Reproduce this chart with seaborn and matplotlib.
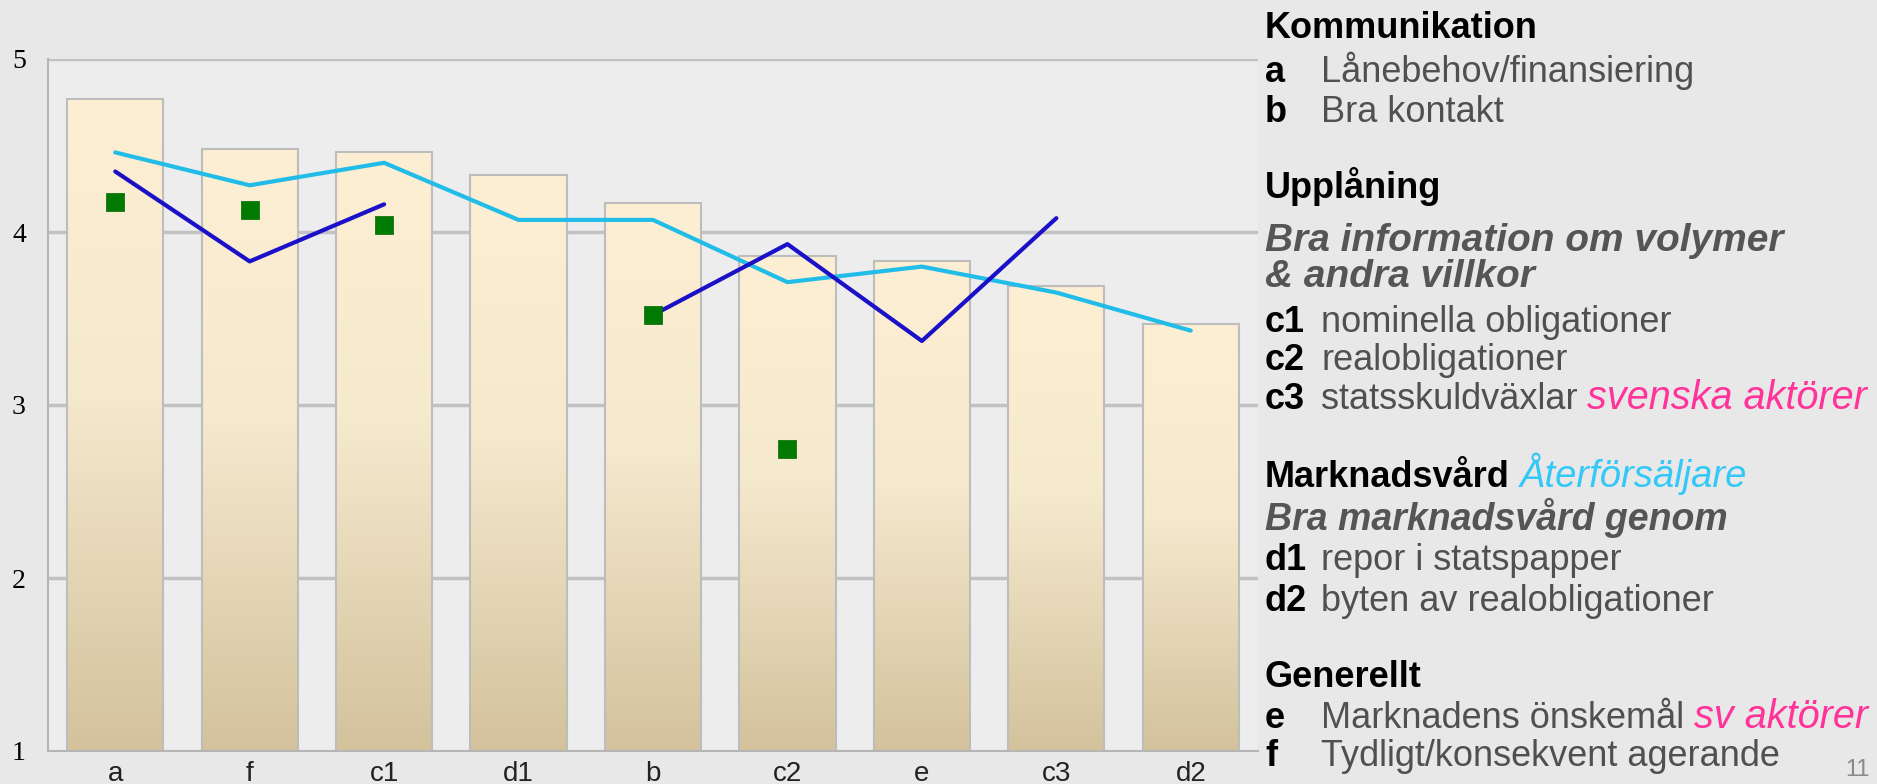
import numpy as np
import pandas as pd
import matplotlib
matplotlib.use("Agg")
import matplotlib.pyplot as plt
import seaborn as sns
from matplotlib.colors import LinearSegmentedColormap

# ---------------- data ----------------
categories = ["a", "f", "c1", "d1", "b", "c2", "e", "c3", "d2"]
bar_values = [4.77, 4.48, 4.46, 4.33, 4.17, 3.86, 3.83, 3.69, 3.47]
cyan_values = [4.46, 4.27, 4.40, 4.07, 4.07, 3.71, 3.80, 3.65, 3.43]
blue_values = [4.35, 3.83, 4.16, np.nan, 3.52, 3.93, 3.37, 4.08, np.nan]
green_values = [4.175, 4.13, 4.04, np.nan, 3.52, 2.745, np.nan, np.nan, np.nan]
y_ticks = [1, 2, 3, 4, 5]

df = pd.DataFrame({"cat": categories, "bar": bar_values, "cyan": cyan_values,
                   "blue": blue_values, "green": green_values})
df["pos"] = np.arange(len(df))

# ---------------- figure ----------------
sns.set_theme(style="white")
plt.rcParams["font.family"] = ["Liberation Sans", "DejaVu Sans"]

W, H = 1877, 784
fig = plt.figure(figsize=(W / 100, H / 100), dpi=100, facecolor="#E8E8E8")
ax = fig.add_axes([48 / W, 1 - 751 / H, 1210 / W, 692 / H])
ax.set_facecolor("#EDEDED")

sns.barplot(data=df, x="cat", y="bar", ax=ax, width=0.715, color="#F5E8CC",
            edgecolor="#BDBDBD", linewidth=1.5, zorder=2)
ax.set_ylim(y_ticks[0], y_ticks[-1])
ax.set_xlim(-0.5, len(categories) - 0.5)
xl = ax.get_xlim()
yl = ax.get_ylim()

# gradient fill for bars
cmap = LinearSegmentedColormap.from_list(
    "bar", [(0, "#FDEFD3"), (0.45, "#F5E9CE"), (1, "#D3C29C")])
grad = np.linspace(0, 1, 256).reshape(-1, 1)
for p in ax.patches:
    x0, w = p.get_x(), p.get_width()
    top = p.get_y() + p.get_height()
    ax.imshow(grad, extent=[x0, x0 + w, yl[0], top], origin="upper",
              cmap=cmap, aspect="auto", zorder=1.8, interpolation="bilinear")
    p.set_facecolor("none")
ax.set_xlim(xl)
ax.set_ylim(yl)

# lines
ax.plot(df["pos"], df["cyan"], color="#22BCE8", lw=3, zorder=4, solid_capstyle="round")
ax.plot(df["pos"], df["blue"], color="#1A10C8", lw=3, zorder=4, solid_capstyle="round")
sns.scatterplot(data=df, x="pos", y="green", marker="s", s=180, color="#007A00",
                edgecolor="#006400", linewidth=0.5, ax=ax, zorder=5)

# axes styling
ax.set_yticks(y_ticks)
ax.set_yticklabels([str(t) for t in y_ticks], fontfamily="Liberation Serif",
                   fontsize=20, color="black")
ax.set_xticks(range(len(categories)))
ax.set_xticklabels(categories, fontsize=20, color="#222222")
ax.tick_params(axis="y", length=0, pad=16)
ax.tick_params(axis="x", length=0, pad=7)
ax.set_xlabel("")
ax.set_ylabel("")
for t in y_ticks[1:]:
    ax.axhline(t, color="#C2C2C2", lw=2.5, zorder=1)
for s in ["top", "right"]:
    ax.spines[s].set_visible(False)
for s in ["left", "bottom"]:
    ax.spines[s].set_color("#B5B5B5")
    ax.spines[s].set_linewidth(1.5)
    ax.spines[s].set_zorder(3)

# ---------------- legend text ----------------
FS = 26
FS_BI = 28
FS_IT = 28.5
GREY = "#505050"
SUB = "#555555"
X_LBL = 1265
X_DESC = 1321


def put(x, y, s, fs=FS, **kw):
    return ax.annotate(s, xy=(x, H - y), xycoords="figure pixels", va="baseline",
                       ha="left", fontsize=fs, annotation_clip=False, **kw)


def chain(prev, s, fs=FS, **kw):
    return ax.annotate(s, xy=(1, 0), xycoords=prev, xytext=(7, 0),
                       textcoords="offset points", va="bottom", ha="left",
                       fontsize=fs, annotation_clip=False, **kw)


put(X_LBL, 38, "Kommunikation", fontweight="bold", color="black")
put(X_LBL, 82, "a", fontweight="bold", color="black")
put(X_DESC, 82, "Lånebehov/finansiering", color=GREY)
put(X_LBL, 122, "b", fontweight="bold", color="black")
put(X_DESC, 122, "Bra kontakt", color=GREY)

put(X_LBL, 198, "Upplåning", fontweight="bold", color="black")
put(X_LBL, 251, "Bra information om volymer", fs=FS_BI, fontweight="bold",
    style="italic", color=SUB)
put(X_LBL, 287, "& andra villkor", fs=FS_BI, fontweight="bold", style="italic", color=SUB)
put(X_LBL, 332, "c1", fontweight="bold", color="black")
put(X_DESC, 332, "nominella obligationer", color=GREY)
put(X_LBL, 370, "c2", fontweight="bold", color="black")
put(X_DESC, 370, "realobligationer", color=GREY)
put(X_LBL, 409, "c3", fontweight="bold", color="black")
t = put(X_DESC, 409, "statsskuldväxlar", color=GREY)
chain(t, "svenska aktörer", fs=FS_IT, style="italic", color="#FF3399")

t = put(X_LBL, 487, "Marknadsvård", fontweight="bold", color="black")
chain(t, "Återförsäljare", fs=27.5, style="italic", color="#33C8F8")
put(X_LBL, 530, "Bra marknadsvård genom", fs=27, fontweight="bold", style="italic", color=SUB)
put(X_LBL, 570, "d1", fontweight="bold", color="black")
put(X_DESC, 570, "repor i statspapper", color=GREY)
put(X_LBL, 611, "d2", fontweight="bold", color="black")
put(X_DESC, 611, "byten av realobligationer", color=GREY)

put(X_LBL, 687, "Generellt", fontweight="bold", color="black")
put(X_LBL, 728, "e", fontweight="bold", color="black")
t = put(X_DESC, 728, "Marknadens önskemål", color=GREY)
chain(t, "sv aktörer", fs=FS_IT, style="italic", color="#FF3399")
put(X_LBL, 766, "f", fontweight="bold", color="black")
put(X_DESC, 766, "Tydligt/konsekvent agerande", color=GREY)

ax.annotate("11", xy=(1870, H - 776), xycoords="figure pixels", va="baseline",
            ha="right", fontsize=17, color="#8A8A8A", annotation_clip=False)

fig.savefig("out.png", dpi=100, facecolor=fig.get_facecolor())
